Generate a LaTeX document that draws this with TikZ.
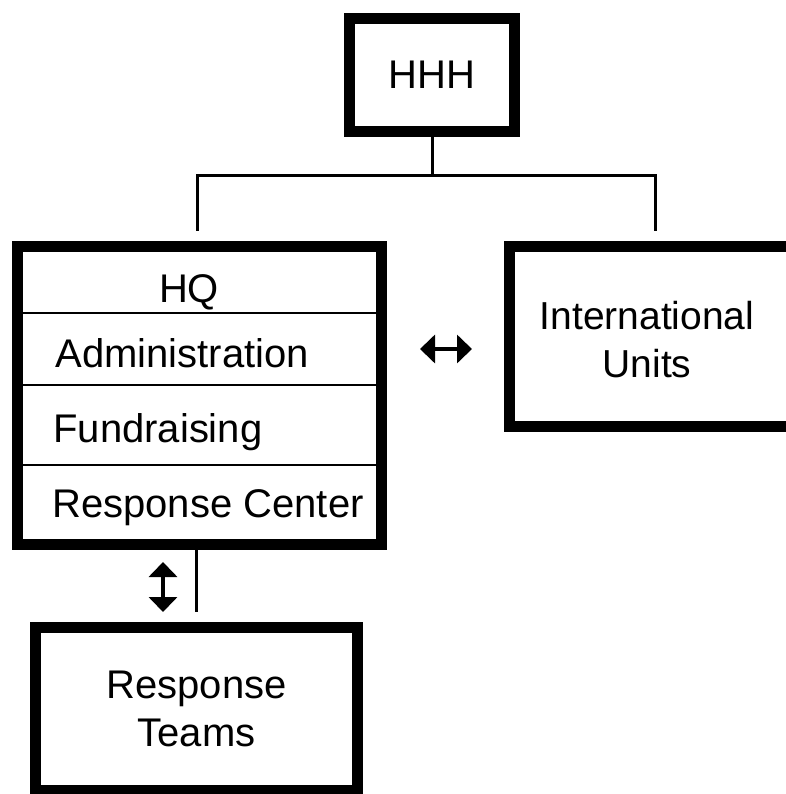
\documentclass[tikz,border=0pt]{standalone}
\usepackage{fontspec}
\setmainfont{Liberation Sans}
\usetikzlibrary{arrows.meta}

\begin{document}
\begin{tikzpicture}[x=0.5pt, y=-0.5pt,
    unit/.style={draw, line width=5.5pt, inner sep=0pt, outer sep=0pt, align=center},
    link/.style={line width=1.5pt},
    divider/.style={line width=1.4pt},
    twoway/.style={line width=1.8pt, {Triangle[width=14pt, length=7.5pt]}-{Triangle[width=14pt, length=7.5pt]}},
    font=\fontsize{20}{24}\selectfont]
    \useasboundingbox (0,0) rectangle (786,794);
    \clip (0,0) rectangle (786,794);
    % Boxes
    \node[unit, minimum width=82.5pt, minimum height=56.5pt] (hhh)   at (432,75)      {HHH};
    \node[unit, minimum width=182pt,  minimum height=149pt]  (hq)    at (199.5,395.5) {};
    \node[unit, minimum width=145.25pt, minimum height=90pt] (units) at (654.75,336.5) {};
    \node[unit, minimum width=161pt,  minimum height=81.5pt] (teams) at (196.5,709)   {Response\\Teams};
    % Texts
    \node[align=center, font=\fontsize{19.5}{24}\selectfont] (unitsText) at (647,340) {International\\Units};
    \node[inner sep=0pt, anchor=base]      (hqName)    at (189,302) {HQ};
    \node[inner sep=0pt, anchor=base west] (admin)     at (55,367)  {Administration};
    \node[inner sep=0pt, anchor=base west] (funds)     at (53,442)  {Fundraising};
    \node[inner sep=0pt, anchor=base west] (center)    at (52,517)  {Response Center};
    % Rows of HQ
    \foreach \y in {313,385,465}
        \draw[divider] (hq.west |- 0,\y) -- (hq.east |- 0,\y);
    % Tree lines
    \coordinate (hqTop)    at ([yshift=8pt]hq.north -| 197,0);
    \coordinate (unitsTop) at ([yshift=8pt]units.north -| 655,0);
    \coordinate (bus)      at (432,175);
    \coordinate (teamsTop) at ([yshift=7.75pt]teams.north);
    \draw[link] (hhh.south) -- (bus);
    \draw[link] (hqTop) |- (bus) -| (unitsTop);
    \draw[link] (hq.south -| teamsTop) -- (teamsTop);
    % Two-way arrows
    \coordinate (sideL) at (420,349);
    \coordinate (sideR) at (472,349);
    \coordinate (downT) at (163,562);
    \coordinate (downB) at (163,612);
    \draw[twoway] (sideL) -- (sideR);
    \draw[twoway] (downT) -- (downB);
\end{tikzpicture}
\end{document}
